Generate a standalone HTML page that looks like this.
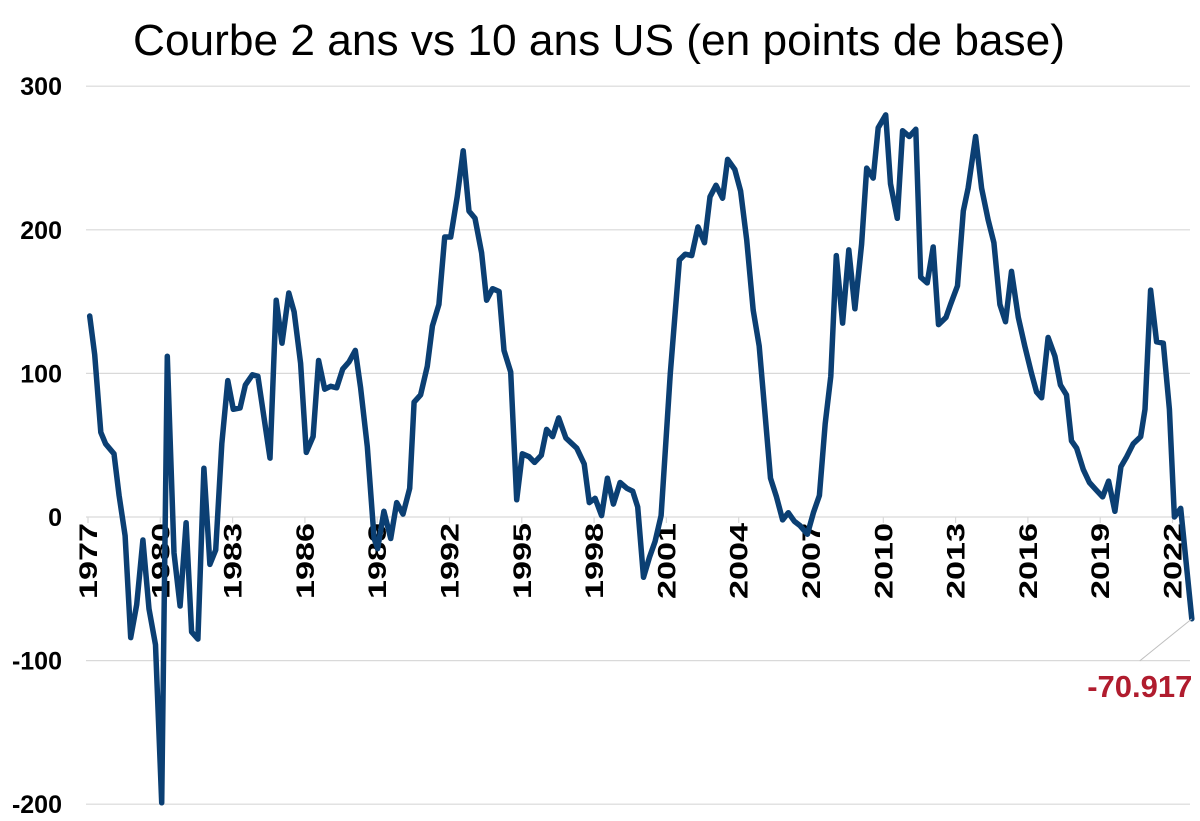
<!DOCTYPE html>
<html><head><meta charset="utf-8"><style>
html,body{margin:0;padding:0;background:#fff;}
svg{display:block;font-family:"Liberation Sans",Arial,sans-serif;}
</style></head><body>
<svg id="chart" width="1200" height="821" viewBox="0 0 1200 821">
<text x="599" y="55" font-size="44" text-anchor="middle" fill="#000" textLength="932" lengthAdjust="spacingAndGlyphs">Courbe 2 ans vs 10 ans US (en points de base)</text>
<g id="grid"></g><g id="yticks"></g><g id="xticks"></g><g id="series"></g><g id="annot"></g>
</svg>
<script>
const years = [1977.07,1977.28,1977.53,1977.73,1978.08,1978.29,1978.54,1978.77,1979.02,1979.28,1979.53,1979.8,1980.06,1980.29,1980.57,1980.82,1981.07,1981.3,1981.56,1981.81,1982.06,1982.3,1982.55,1982.8,1983.03,1983.31,1983.53,1983.82,1984.05,1984.55,1984.81,1985.05,1985.33,1985.55,1985.82,1986.06,1986.34,1986.57,1986.82,1987.07,1987.32,1987.57,1987.83,1988.09,1988.31,1988.59,1988.87,1989.02,1989.28,1989.56,1989.81,1990.07,1990.35,1990.53,1990.8,1991.08,1991.29,1991.56,1991.8,1992.05,1992.32,1992.57,1992.81,1993.06,1993.33,1993.54,1993.79,1994.06,1994.26,1994.54,1994.79,1995.02,1995.3,1995.53,1995.81,1996.03,1996.28,1996.53,1996.83,1997.28,1997.59,1997.8,1998.04,1998.31,1998.55,1998.8,1999.08,1999.36,1999.6,1999.81,2000.05,2000.3,2000.53,2000.78,2001.16,2001.54,2001.78,2002.05,2002.31,2002.58,2002.81,2003.06,2003.33,2003.54,2003.84,2004.08,2004.33,2004.6,2004.85,2005.09,2005.32,2005.57,2005.82,2006.06,2006.31,2006.54,2006.85,2007.1,2007.35,2007.59,2007.82,2008.05,2008.31,2008.57,2008.82,2009.1,2009.31,2009.58,2009.79,2010.1,2010.3,2010.58,2010.8,2011.08,2011.35,2011.55,2011.82,2012.07,2012.29,2012.6,2012.79,2013.08,2013.32,2013.52,2013.83,2014.08,2014.35,2014.59,2014.84,2015.07,2015.32,2015.6,2015.87,2016.15,2016.36,2016.57,2016.84,2017.12,2017.35,2017.6,2017.81,2018.02,2018.3,2018.55,2018.82,2019.1,2019.35,2019.61,2019.86,2020.1,2020.37,2020.68,2020.86,2021.09,2021.34,2021.62,2021.87,2022.08,2022.34,2022.8];
const values = [140,113,59,51,44,15,-13,-84,-61,-16,-64,-89,-199,112,-25,-62,-4,-80,-85,34,-33,-23,51,95,75,76,92,99,98,41,151,121,156,143,107,45,56,109,89,91,90,103,108,116,90,49,-15,-22,4,-15,10,2,20,80,85,105,133,148,195,195,223,255,213,208,184,151,159,157,116,101,12,44,42,38,43,61,56,69,55,48,37,10,13,1,27,9,24,20,18,7,-42,-28,-17,1,100,179,183,182,202,191,223,231,222,249,242,227,193,144,119,72,27,14,-2,3,-3,-6,-12,3,15,65,98,182,135,186,145,190,243,236,271,280,232,208,269,265,270,167,163,188,134,139,148,161,213,229,265,229,207,191,148,136,171,139,119,100,87,83,125,112,92,85,53,48,33,24,19,14,25,4,35,42,51,56,75,158,122,121,75,0,6,-70.917];
const yTicks = [300,200,100,0,-100,-200];
const xTickYears = [1977,1980,1983,1986,1989,1992,1995,1998,2001,2004,2007,2010,2013,2016,2019,2022];
const lastLabel = "-70.917";

const NS="http://www.w3.org/2000/svg";
const X0=88, PXY=24.1, Y0=517, PXV=1.436;
function xs(y){return X0+(y-1977)*PXY;}
function ys(v){return Y0-v*PXV;}
function mk(tag,attrs,parent){const e=document.createElementNS(NS,tag);for(const k in attrs)e.setAttribute(k,attrs[k]);parent.appendChild(e);return e;}
const grid=document.getElementById('grid'),yt=document.getElementById('yticks'),xt=document.getElementById('xticks'),ser=document.getElementById('series'),an=document.getElementById('annot');
yTicks.forEach(v=>{
  if(v!==0){const l=mk('line',{x1:86,x2:1190,y1:ys(v),y2:ys(v),stroke:'#d9d9d9','stroke-width':1.2},grid);
  
  }
  const t=mk('text',{x:62,y:ys(v)+9,'font-size':25,'font-weight':'bold','text-anchor':'end',fill:'#000'},yt);
  t.textContent=v;
  
  
});
const ax=mk('line',{x1:86,x2:1190,y1:Y0,y2:Y0,stroke:'#d9d9d9','stroke-width':1.2},grid);


xTickYears.forEach(yr=>{
  const x=xs(yr);
  const tk=mk('line',{x1:x,x2:x,y1:Y0,y2:Y0+6,stroke:'#d9d9d9','stroke-width':1.2},xt);
  
  
  const t=mk('text',{x:0,y:0,'font-size':25,'font-weight':'bold','text-anchor':'end',fill:'#000',textLength:76,lengthAdjust:'spacingAndGlyphs',transform:`translate(${x+9},${Y0+6}) rotate(-90)`},xt);
  t.textContent=yr;
  
  
});
const d=years.map((y,i)=>(i?'L':'M')+xs(y).toFixed(1)+','+ys(values[i]).toFixed(1)).join(' ');
const p=mk('path',{d:d,fill:'none',stroke:'#0b3f73','stroke-width':5.5,'stroke-linejoin':'round','stroke-linecap':'round'},ser);


const lx=xs(years[years.length-1]),ly=ys(values[values.length-1]);
const cl=mk('line',{x1:lx,y1:ly,x2:lx-52,y2:ly+42,stroke:'#bfbfbf','stroke-width':1},an);


const lt=mk('text',{x:lx-52,y:ly+78,'font-size':31,'font-weight':'bold','text-anchor':'middle',fill:'#b01c2e'},an);
lt.textContent=lastLabel;


</script>
</body></html>
